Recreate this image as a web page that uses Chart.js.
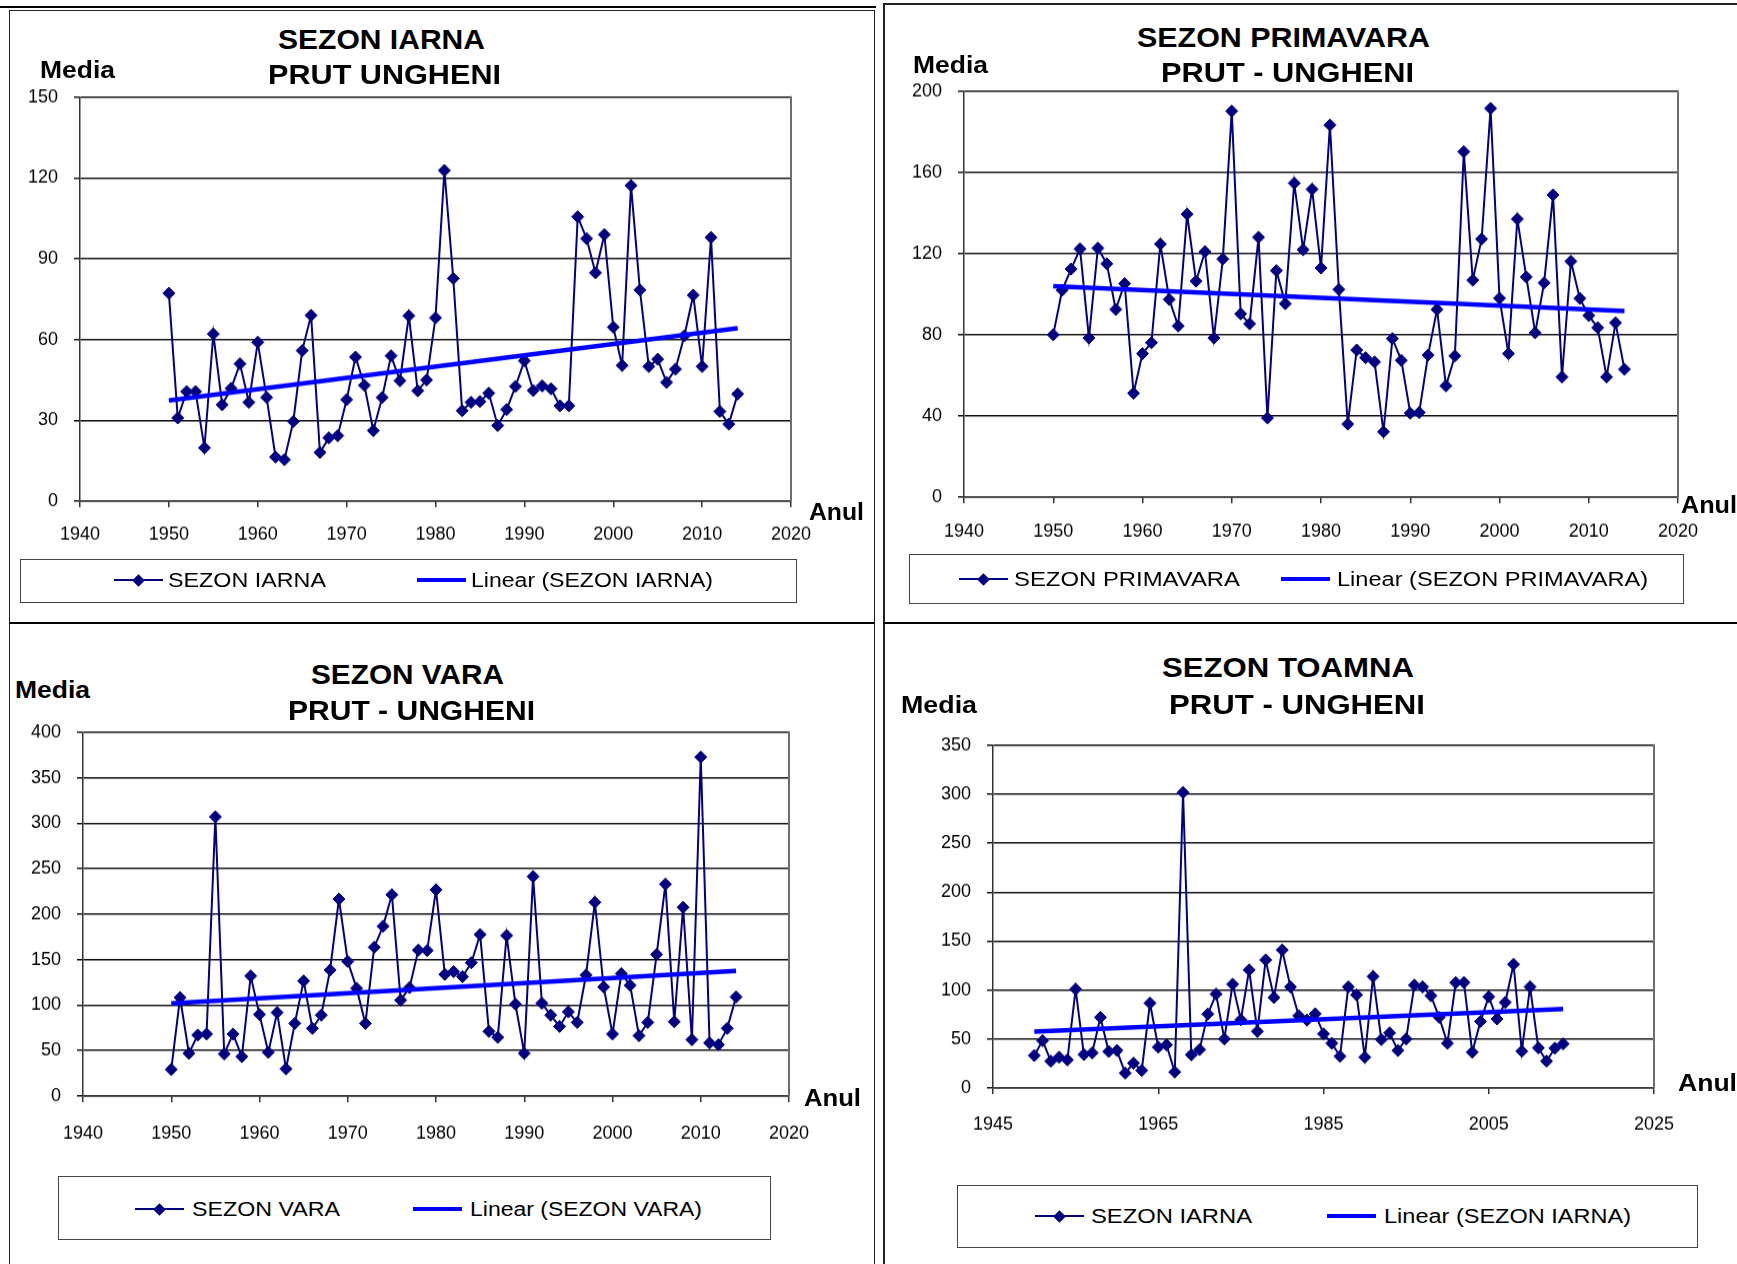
<!DOCTYPE html>
<html>
<head>
<meta charset="utf-8">
<script src="https://cdn.jsdelivr.net/npm/chart.js@4.4.1/dist/chart.umd.min.js"></script>
<style>
  html, body { margin: 0; padding: 0; background: #fff; }
  body { position: relative; width: 1737px; height: 1264px; overflow: hidden; font-family: "Liberation Sans", Arial, sans-serif; }
  canvas { position: absolute; }
  .rule { position: absolute; background: #000; }
  .box { position: absolute; border: 1.5px solid #222; box-sizing: border-box; }
</style>
</head>
<body>
<script>
// Seasonal mean discharge, Prut river at Ungheni, 1950-2014
const years = [];
for (let y = 1950; y <= 2014; y++) years.push(y);

const iarna = [77.2, 30.9, 40.7, 40.7, 19.8, 62.1, 35.8, 41.9, 51.0, 36.7,
  59.0, 38.5, 16.4, 15.4, 29.6, 55.9, 69.0, 18.1, 23.5, 24.3,
  37.7, 53.5, 43.0, 26.2, 38.5, 54.0, 44.7, 68.8, 41.0, 45.0,
  68.1, 122.8, 82.7, 33.6, 36.7, 37.0, 40.1, 28.1, 34.0, 42.6,
  52.1, 41.1, 42.8, 41.7, 35.4, 35.4, 105.6, 97.5, 84.8, 99.0,
  64.6, 50.4, 117.2, 78.4, 50.0, 52.7, 44.1, 49.0, 61.4, 76.5,
  50.0, 97.9, 33.3, 28.6, 39.8];

const primavara = [80, 102, 112.4, 122.3, 78.4, 122.7, 115, 92.5, 105.2, 51.2,
  70.7, 76.1, 124.7, 97.4, 84.3, 139.4, 106.4, 121, 78.4, 117.3,
  190.2, 90.3, 85.4, 128, 39, 111.6, 95.3, 154.7, 121.9, 151.7,
  112.9, 183.3, 102.3, 36, 72.5, 68.7, 66.6, 32.2, 78.1, 67.4,
  41.4, 41.7, 70, 92.5, 54.8, 69.6, 170.2, 106.9, 127.2, 191.5,
  98, 70.7, 137, 108.5, 81, 105.6, 148.9, 59.2, 116.2, 97.9,
  89.5, 83.5, 59.2, 85.9, 63];

const vara = [29.2, 108.3, 47, 67.1, 68.2, 307, 46.3, 68.2, 43.4, 132,
  89.7, 48.1, 91.9, 29.9, 79.9, 126.6, 74.4, 89, 138.6, 216.6,
  148.1, 118.5, 79.9, 163.7, 186.7, 221.4, 105.4, 119.3, 160.5, 160.1,
  226.8, 133.8, 136.8, 131.3, 146.6, 177.6, 71.1, 64.6, 176.5, 101,
  47, 241.4, 102.1, 89, 76.6, 92.6, 81, 133.1, 213, 120,
  68.2, 134.6, 121.8, 66.4, 81, 155.7, 233, 81.7, 207.5, 62,
  372.7, 58.4, 56.5, 74.4, 109];

const toamna = [33.2, 48.4, 27.4, 31.5, 28.8, 100.9, 34.2, 35.9, 72.2, 37.3,
  38.3, 15.2, 25.4, 18, 86.7, 41.7, 44, 16.3, 301.8, 33.9,
  39.3, 75.5, 95.9, 50.1, 106, 69.8, 120.6, 57.9, 130.8, 92.5,
  140.9, 103.3, 73.8, 69.4, 75.8, 55.2, 45.7, 32.5, 103.3, 95.2,
  31.5, 113.8, 49.5, 56.2, 38.3, 50.1, 105, 103.3, 94.2, 72.2,
  45.7, 107.7, 107.7, 36.6, 68.1, 93.2, 70.5, 87.4, 126.4, 37.6,
  103.3, 41, 27.4, 40.7, 45.1];

// Linear trend end values (first and last year)
const trendYears = [1950, 2014];
const trendIarna = [37.4, 64.2];
const trendPrimavara = [103.9, 91.7];
const trendVara = [101.8, 137.5];
const trendToamna = [57.6, 80.6];

// Axis tick labels
const xTicksA = [1940, 1950, 1960, 1970, 1980, 1990, 2000, 2010, 2020];
const xTicksB = [1945, 1965, 1985, 2005, 2025];
const yTicksIarna = [0, 30, 60, 90, 120, 150];
const yTicksPrimavara = [0, 40, 80, 120, 160, 200];
const yTicksVara = [0, 50, 100, 150, 200, 250, 300, 350, 400];
const yTicksToamna = [0, 50, 100, 150, 200, 250, 300, 350];

const NAVY = '#000080';
const BLUE = '#0000ff';
const FONT = '"Liberation Sans", Arial, sans-serif';

function addDiv(cls, css) {
  const d = document.createElement('div');
  d.className = cls;
  d.style.cssText = css;
  document.body.appendChild(d);
  return d;
}

// Text stretched horizontally to a given width; (x = left edge, y = visual centre)
function text(str, x, y, w, size, bold) {
  const el = document.createElement('div');
  el.textContent = str;
  el.style.cssText = 'position:absolute;white-space:nowrap;line-height:1;color:#000;' +
    'font-family:' + FONT + ';font-size:' + size + 'px;font-weight:' + (bold ? 'bold' : 'normal') + ';';
  document.body.appendChild(el);
  const nat = el.getBoundingClientRect().width;
  el.style.left = x + 'px';
  el.style.top = (y - size * 0.49) + 'px';
  el.style.transformOrigin = '0 50%';
  el.style.transform = 'scaleX(' + (w / nat) + ')';
}
function ctext(str, cx, y, w, size, bold) { text(str, cx - w / 2, y, w, size, bold); }

// Page frame
addDiv('rule', 'left:0;top:6px;width:876px;height:2px;');
addDiv('box', 'left:9px;top:10px;width:866px;height:1300px;');
addDiv('box', 'left:883px;top:3px;width:900px;height:1300px;border-width:2px;');
addDiv('rule', 'left:9px;top:622px;width:866px;height:2px;');
addDiv('rule', 'left:883px;top:622px;width:860px;height:2px;');

const rightBorder = {
  id: 'rightBorder',
  afterDraw(chart) {
    const a = chart.chartArea, ctx = chart.ctx;
    ctx.save();
    ctx.strokeStyle = '#6e6e6e';
    ctx.lineWidth = 2;
    ctx.beginPath();
    ctx.moveTo(a.right, a.top - 1);
    ctx.lineTo(a.right, a.bottom);
    ctx.stroke();
    ctx.restore();
  }
};

const YW = 75, XH = 60, PT = 20, PR = 50;

function panel(p) {
  const c = document.createElement('canvas');
  let w = (p.r - p.l) + YW + PR;
  let h = (p.b - p.t) + PT + XH;
  c.width = w; c.height = h;
  c.style.width = w + 'px';
  c.style.height = h + 'px';
  document.body.appendChild(c);

  const tickFont = { family: FONT, size: 18 };
  const chart = new Chart(c, {
    type: 'line',
    data: {
      datasets: [
        {
          label: p.name,
          data: years.map((yr, i) => ({ x: yr, y: p.values[i] })),
          borderColor: NAVY,
          backgroundColor: NAVY,
          borderWidth: 2,
          pointStyle: 'rectRot',
          pointRadius: 6,
          pointBackgroundColor: NAVY,
          pointBorderColor: NAVY,
          pointBorderWidth: 1,
          tension: 0,
          order: 1
        },
        {
          label: 'Linear (' + p.name + ')',
          data: trendYears.map((yr, i) => ({ x: yr, y: p.trend[i] })),
          borderColor: BLUE,
          borderWidth: 4.5,
          pointRadius: 0,
          tension: 0,
          order: 0
        }
      ]
    },
    options: {
      responsive: false,
      animation: false,
      events: [],
      devicePixelRatio: 1,
      layout: { padding: { top: PT, right: PR, left: 0, bottom: 0 } },
      plugins: { legend: { display: false }, tooltip: { enabled: false }, title: { display: false } },
      scales: {
        x: {
          type: 'linear',
          min: p.xTicks[0],
          max: p.xTicks[p.xTicks.length - 1],
          afterBuildTicks: s => { s.ticks = p.xTicks.map(v => ({ value: v })); },
          afterFit: s => { s.height = XH; },
          ticks: { font: tickFont, color: '#000', padding: p.xPad, maxRotation: 0, autoSkip: false, callback: v => String(v) },
          grid: { drawOnChartArea: false, drawTicks: true, tickLength: 6, color: '#333', lineWidth: 1.5 },
          border: { color: '#333', width: 1.5 }
        },
        y: {
          type: 'linear',
          min: 0,
          max: p.yTicks[p.yTicks.length - 1],
          afterBuildTicks: s => { s.ticks = p.yTicks.map(v => ({ value: v })); },
          afterFit: s => { s.width = YW; },
          ticks: { font: tickFont, color: '#000', padding: 16, callback: v => String(v) },
          grid: { color: '#111', lineWidth: 1.5, tickLength: 6 },
          border: { color: '#333', width: 1.5 }
        }
      }
    },
    plugins: [rightBorder]
  });

  // Grow the canvas so the plot area gets exactly the intended size
  let a = chart.chartArea;
  const dw = (p.r - p.l) - (a.right - a.left);
  const dh = (p.b - p.t) - (a.bottom - a.top);
  if (Math.abs(dw) > 0.5 || Math.abs(dh) > 0.5) {
    w += dw; h += dh;
    chart.resize(w, h);
    c.style.width = w + 'px';
    c.style.height = h + 'px';
    a = chart.chartArea;
  }
  c.style.left = (p.l - a.left) + 'px';
  c.style.top = (p.t - a.top) + 'px';
}

function legend(b, name) {
  addDiv('box', 'left:' + b.l + 'px;top:' + b.t + 'px;width:' + (b.r - b.l) + 'px;height:' + (b.b - b.t) + 'px;border-color:#444;');
  const cy = b.cy;
  addDiv('rule', 'left:' + b.s1 + 'px;top:' + (cy - 1) + 'px;width:49px;height:2px;background:' + NAVY + ';');
  addDiv('rule', 'left:' + (b.s1 + 20) + 'px;top:' + (cy - 4.5) + 'px;width:9px;height:9px;background:' + NAVY + ';transform:rotate(45deg);');
  text(name, b.t1, cy, b.w1, 20, false);
  addDiv('rule', 'left:' + b.s2 + 'px;top:' + (cy - 2) + 'px;width:49px;height:4px;background:' + BLUE + ';');
  text('Linear (' + name + ')', b.t2, cy, b.w2, 20, false);
}

// SEZON IARNA
panel({ name: 'SEZON IARNA', values: iarna, trend: trendIarna, xTicks: xTicksA, yTicks: yTicksIarna,
  l: 80, t: 97, r: 791, b: 502, xPad: 16 });
ctext('SEZON IARNA', 381, 40, 207, 28, true);
ctext('PRUT UNGHENI', 384, 75, 233, 28, true);
text('Media', 40, 70, 75, 23, true);
text('Anul', 809, 512, 55, 23, true);
legend({ l: 20, t: 559, r: 797, b: 603, cy: 580, s1: 114, t1: 168, w1: 158, s2: 417, t2: 471, w2: 242 }, 'SEZON IARNA');

// SEZON PRIMAVARA
panel({ name: 'SEZON PRIMAVARA', values: primavara, trend: trendPrimavara, xTicks: xTicksA, yTicks: yTicksPrimavara,
  l: 964, t: 91, r: 1678, b: 498, xPad: 17 });
ctext('SEZON PRIMAVARA', 1283, 38, 293, 28, true);
ctext('PRUT - UNGHENI', 1287, 73, 253, 28, true);
text('Media', 913, 65, 75, 23, true);
text('Anul', 1681, 505, 56, 23, true);
legend({ l: 909, t: 554, r: 1684, b: 604, cy: 579, s1: 959, t1: 1014, w1: 226, s2: 1281, t2: 1337, w2: 311 }, 'SEZON PRIMAVARA');

// SEZON VARA
panel({ name: 'SEZON VARA', values: vara, trend: trendVara, xTicks: xTicksA, yTicks: yTicksVara,
  l: 83, t: 732, r: 789, b: 1097, xPad: 20 });
ctext('SEZON VARA', 407, 675, 193, 28, true);
ctext('PRUT - UNGHENI', 411, 711, 247, 28, true);
text('Media', 15, 690, 75, 23, true);
text('Anul', 804, 1098, 57, 23, true);
legend({ l: 58, t: 1176, r: 771, b: 1240, cy: 1209, s1: 135, t1: 192, w1: 148, s2: 413, t2: 470, w2: 232 }, 'SEZON VARA');

// SEZON TOAMNA
panel({ name: 'SEZON IARNA', values: toamna, trend: trendToamna, xTicks: xTicksB, yTicks: yTicksToamna,
  l: 993, t: 745, r: 1654, b: 1089, xPad: 19 });
ctext('SEZON TOAMNA', 1288, 668, 252, 28, true);
ctext('PRUT - UNGHENI', 1297, 705, 256, 28, true);
text('Media', 901, 705, 76, 23, true);
text('Anul', 1678, 1083, 59, 23, true);
legend({ l: 957, t: 1185, r: 1698, b: 1248, cy: 1216, s1: 1035, t1: 1091, w1: 161, s2: 1327, t2: 1384, w2: 247 }, 'SEZON IARNA');
</script>
</body>
</html>
